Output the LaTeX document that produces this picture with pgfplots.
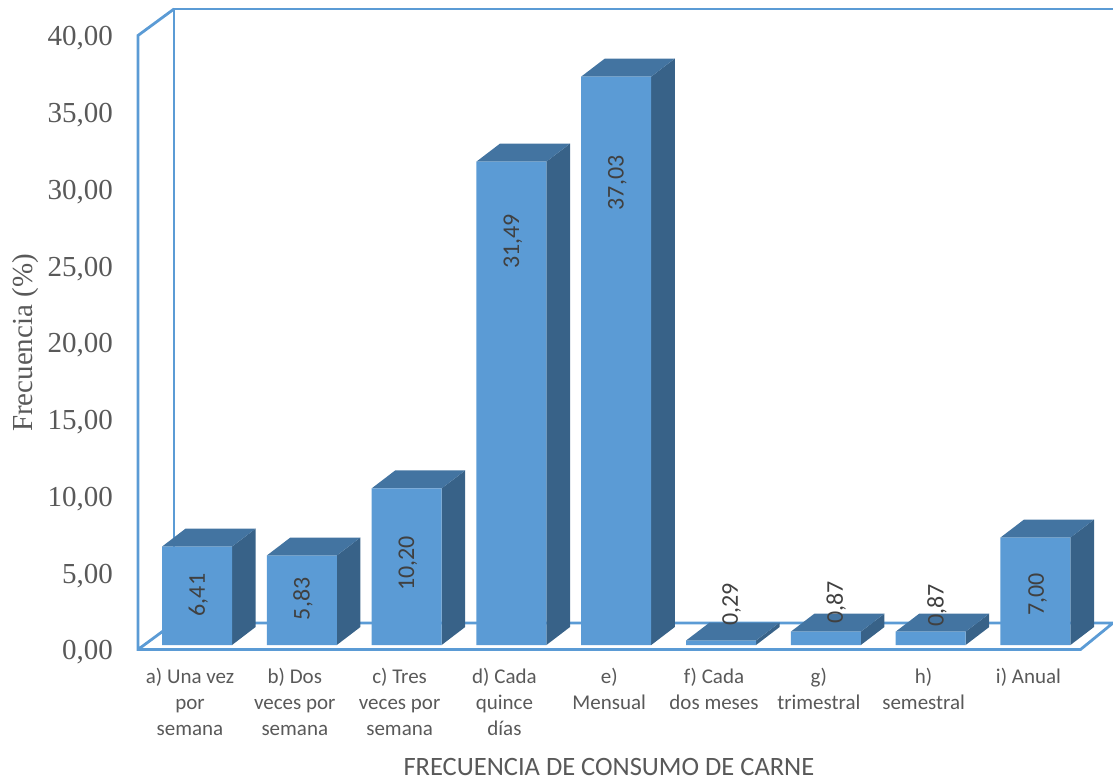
\documentclass[border=0pt]{standalone}
\usepackage{fontspec}
\usepackage{pgfplots}
\usepackage{pgfplotstable}
\pgfplotsset{compat=1.18}
\setmainfont{Carlito}
\newfontfamily\romana{Liberation Serif}
\definecolor{frente}{HTML}{5B9BD5}
\definecolor{lateral}{HTML}{386288}
\definecolor{superior}{HTML}{4374A1}
\definecolor{texto}{HTML}{595959}
\definecolor{rotulo}{HTML}{404040}

% Porcentaje de cada frecuencia de consumo
\pgfplotstableread{
x valor
0 6.41
1 5.83
2 10.20
3 31.49
4 37.03
5 0.29
6 0.87
7 0.87
8 7.00
}\datos

% Medidas de la perspectiva, en unidades de los ejes
\def\semi{0.334}
\def\fondox{0.225}
\def\fondoy{1.173}
\def\base{0.293}

% Caras lateral y superior de una barra: #1 posicion, #2 valor
\newcommand{\caras}[2]{%
  \pgfmathsetmacro{\cxa}{#1+\semi}%
  \pgfmathsetmacro{\cxb}{#1+\semi+\fondox}%
  \pgfmathsetmacro{\cxz}{#1-\semi}%
  \pgfmathsetmacro{\cxzb}{#1-\semi+\fondox}%
  \pgfmathsetmacro{\cyz}{\base}%
  \pgfmathsetmacro{\cyzb}{\base+\fondoy}%
  \pgfmathsetmacro{\cya}{#2+\base}%
  \pgfmathsetmacro{\cyb}{#2+\base+\fondoy}%
  \addplot[fill=lateral,draw=none,forget plot] coordinates {(\cxa,\cyz) (\cxb,\cyzb) (\cxb,\cyb) (\cxa,\cya)};
  \addplot[fill=superior,draw=none,forget plot] coordinates {(\cxz,\cya) (\cxa,\cya) (\cxb,\cyb) (\cxzb,\cyb)};
}
\newcommand{\rotulo}[3]{\node[rotate=90,font=\fontsize{24}{24}\selectfont,text=rotulo,inner sep=0pt] at (axis cs:#1,#2) {#3};}

\begin{document}
\begin{tikzpicture}[x=1pt,y=1pt]
\useasboundingbox (0,0) rectangle (1113,780);
\begin{axis}[
  at={(138pt,130.5pt)},
  anchor=south west,
  scale only axis,
  width=975pt,
  height=640.5pt,
  xmin=-0.563,
  xmax=8.740,
  ymin=0,
  ymax=41.726,
  clip=false,
  axis line style={draw=none},
  major tick length=0pt,
  ytick={0,5,...,40},
  xtick={0,...,8},
  xticklabels={
    {a) Una vez\\por\\semana},
    {b) Dos\\veces por\\semana},
    {c) Tres\\veces por\\semana},
    {d) Cada\\quince\\días},
    {e)\\Mensual},
    {f) Cada\\dos meses},
    {g)\\trimestral},
    {h)\\semestral},
    {i) Anual}},
  xticklabel style={
    font=\fontsize{21}{26}\selectfont,
    text=texto,
    align=flush center,
    text width=104pt,
    anchor=north,
    inner sep=0pt,
    xshift=-7pt,
    yshift=-18pt},
  yticklabel style={
    font=\romana\fontsize{29}{29}\selectfont,
    text=texto,
    inner sep=0pt,
    xshift=-25pt,
    yshift=-3pt,
    /pgf/number format/.cd,fixed,fixed zerofill,precision=2,use comma,assume math mode=true},
  xlabel={FRECUENCIA DE CONSUMO DE CARNE},
  xlabel style={
    at={(0.483,-0.1834)},
    anchor=center,
    font=\fontsize{26.5}{26.5}\selectfont,
    text=texto},
  ylabel={Frecuencia (\%)},
  ylabel style={
    at={(-0.1149,0.4785)},
    anchor=center,
    rotate=0,
    font=\romana\fontsize{29}{29}\selectfont,
    text=texto},
]
  % Paredes y suelo
  \addplot[frente,line width=2.8pt,forget plot] coordinates {(-0.2195,1.726) (-0.2195,41.726) (8.740,41.726)};
  \addplot[frente,line width=2.8pt,forget plot] coordinates {(-0.2195,41.726) (-0.563,40) (-0.563,0) (8.43,0) (8.740,1.726) (-0.2195,1.726) (-0.563,0)};

  \caras{0}{6.41}
  \caras{1}{5.83}
  \caras{2}{10.20}
  \caras{3}{31.49}
  \caras{4}{37.03}
  \caras{5}{0.29}
  \caras{6}{0.87}
  \caras{7}{0.87}
  \caras{8}{7.00}

  % Cara frontal de las barras
  \addplot[ybar,bar width=70pt,bar shift=0pt,fill=frente,draw=none,yshift=4.5pt,forget plot]
    table[x=x,y=valor] {\datos};

  \rotulo{0.012}{3.55}{6,41}
  \rotulo{1.012}{3.3}{5,83}
  \rotulo{2.012}{5.6}{10,20}
  \rotulo{3.015}{26.6}{31,49}
  \rotulo{4.012}{30.4}{37,03}
  \rotulo{5.10}{2.95}{0,29}
  \rotulo{6.10}{3.05}{0,87}
  \rotulo{7.06}{2.85}{0,87}
  \rotulo{8.02}{3.6}{7,00}
\end{axis}
\end{tikzpicture}
\end{document}
